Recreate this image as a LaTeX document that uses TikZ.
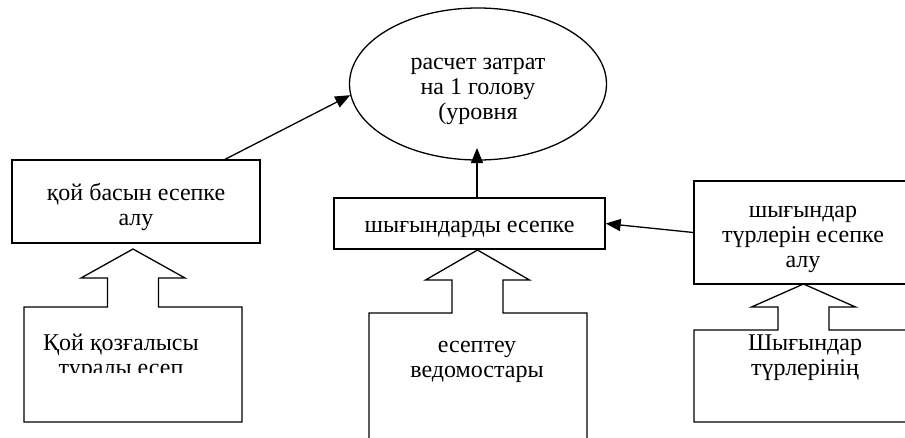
\documentclass[tikz,border=0pt]{standalone}
\usepackage{fontspec}
\setmainfont{Liberation Serif}
\usetikzlibrary{shapes.geometric, arrows.meta, positioning}

\begin{document}
\begin{tikzpicture}[x=1pt,y=-1pt,
  every node/.style={font=\fontsize{24}{25}\selectfont, align=center},
  stage/.style={draw, line width=1.3pt, inner sep=0pt},
  lift/.style={yshift=-6pt},
  feed/.style={draw, line width=1.3pt, line join=miter},
  link/.style={line width=1.3pt, -{Triangle[length=15pt,width=12pt]}}]
  \clip (0,0) rectangle (905,437);
  % result of the calculation
  \node[stage, ellipse, minimum width=257pt, minimum height=152pt,
    label={[lift, yshift=-1pt]center:расчет затрат\\на 1 голову\\(уровня}] (calc) at (478,84) {};
  % accounting stages
  \node[stage, minimum width=248pt, minimum height=83pt,
    label={[lift, yshift=1pt]center:қой басын есепке\\алу}] (sheep) at (136,201.5) {};
  \node[stage, minimum width=271pt, minimum height=51pt,
    label={[lift]center:шығындарды есепке}] (cost) at (469.5,223.5) {};
  \node[stage, minimum width=218pt, minimum height=103pt,
    label={[lift, yshift=-1pt]center:шығындар\\түрлерін есепке\\алу}] (types) at (803,232.5) {};
  % source documents with their block arrows
  \foreach \tx/\ty/\wy/\sy/\bl/\br/\bb in {133/249/278/307/24/242/422, 477.5/250/280/313/369/587/445, 803.5/284/307/330/694/915/422}
    \draw[feed] (\bl,\bb) -- (\bl,\sy) -- (\tx-25.5,\sy) -- (\tx-25.5,\wy) -- (\tx-52,\wy) -- (\tx,\ty)
      -- (\tx+52,\wy) -- (\tx+25.5,\wy) -- (\tx+25.5,\sy) -- (\br,\sy) -- (\br,\bb) -- cycle;
  \begin{scope}
    \clip (24,307) rectangle (242,372);
    \node[anchor=base] (move) at (121,375) {Қой қозғалысы\\туралы есеп};
  \end{scope}
  \node[anchor=base] (sheets) at (477,377) {есептеу\\ведомостары};
  \begin{scope}
    \clip (694,330) rectangle (905,382);
    \node[anchor=base] (kinds) at (805,375) {Шығындар\\түрлерінің};
  \end{scope}
  % connectors
  \coordinate (calcin) at (477,148);
  \draw[link] ([xshift=89pt]sheep.north) -- (calc.185);
  \draw[link] (cost.north -| calcin) -- (calcin);
  \draw[link] (types.west) -- (cost.east);
\end{tikzpicture}
\end{document}
